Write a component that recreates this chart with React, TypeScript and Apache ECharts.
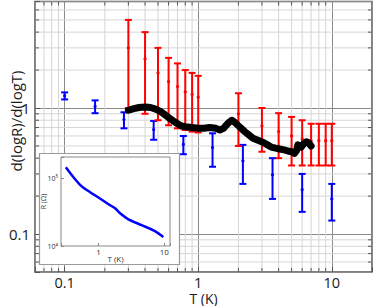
import React, { useEffect, useRef } from 'react';
import * as echarts from 'echarts';

// ---- Main axes ----
const xTickLabels = ['0.1', '1', '10'];
const yTickLabels = ['0.1', '1'];
const xMinorTicks = [0.07, 0.08, 0.09, 0.2, 0.3, 0.4, 0.5, 0.6, 0.7, 0.8, 0.9, 2, 3, 4, 5, 6, 7, 8, 9];
const yMinorTicks = [0.06, 0.07, 0.08, 0.09, 0.2, 0.3, 0.4, 0.5, 0.6, 0.7, 0.8, 0.9, 2, 3, 4, 5, 6];

// ---- Red error bars ----
const redT = [0.3, 0.4, 0.5, 0.6, 0.7, 0.8, 0.9, 1.0, 2, 3, 4, 5, 6, 7, 8, 9, 10];
const redCenter = [3.0, 2.45, 1.9, 1.62, 1.48, 1.34, 1.28, 1.22, 0.9, 0.72, 0.65, 0.6, 0.57, 0.55, 0.55, 0.55, 0.55];
const redLow = [1.0, 0.9, 0.8, 0.73, 0.69, 0.67, 0.65, 0.64, 0.5, 0.45, 0.4, 0.35, 0.35, 0.35, 0.35, 0.35, 0.35];
const redHigh = [5.0, 4.0, 3.0, 2.5, 2.26, 2.0, 1.9, 1.8, 1.31, 1.0, 0.91, 0.85, 0.8, 0.75, 0.75, 0.75, 0.75];

// ---- Blue error bars ----
const blueT = [0.1, 0.169, 0.278, 0.464, 0.774, 1.28, 2.16, 3.6, 6.0, 10];
const blueCenter = [1.25, 1.03, 0.81, 0.675, 0.515, 0.486, 0.38, 0.295, 0.225, 0.19];
const blueLow = [1.17, 0.91, 0.69, 0.56, 0.43, 0.342, 0.25, 0.19, 0.15, 0.128];
const blueHigh = [1.33, 1.15, 0.925, 0.79, 0.6, 0.63, 0.51, 0.4, 0.3, 0.25];

// ---- Black curve ----
const curveT = [0.3, 0.33, 0.36, 0.4, 0.44, 0.48, 0.52, 0.56, 0.6, 0.65, 0.7, 0.75, 0.8, 0.9, 1.0, 1.1, 1.22, 1.35, 1.45, 1.55, 1.62, 1.7, 1.79, 1.88, 1.98, 2.1, 2.23, 2.4, 2.57, 2.8, 3.05, 3.3, 3.52, 3.8, 4.06, 4.4, 4.69, 5.0, 5.27, 5.45, 5.57, 5.75, 5.9, 6.15, 6.44, 6.7, 7.0];
const curveY = [0.96, 0.99, 1.01, 1.02, 1.01, 0.98, 0.94, 0.89, 0.84, 0.79, 0.75, 0.72, 0.71, 0.7, 0.69, 0.69, 0.7, 0.69, 0.67, 0.69, 0.73, 0.77, 0.8, 0.77, 0.73, 0.69, 0.65, 0.61, 0.575, 0.555, 0.535, 0.51, 0.49, 0.48, 0.473, 0.465, 0.456, 0.45, 0.437, 0.46, 0.51, 0.5, 0.49, 0.52, 0.54, 0.53, 0.5];

// ---- Inset R(T) ----
const insetXTickLabels = ['1', '10'];
const insetYTickLabels = ['10⁴', '10⁵'];
const insetYTickValues = [1e4, 1e5];
const insetT = [0.32, 0.418, 0.558, 0.748, 1.0, 1.42, 1.79, 2.13, 2.85, 4.54, 7.22, 9.66];
const insetR = [1.48e5, 1.05e5, 7.67e4, 6.3e4, 5.25e4, 4.17e4, 3.63e4, 3.06e4, 2.49e4, 2.04e4, 1.66e4, 1.36e4];

const FONT = '"Open Sans", "DejaVu Sans", sans-serif';

const near = (a: number, b: number) => Math.abs(Math.log10(a) - Math.log10(b)) < 1e-6;

function errorBarSeries(name: string, color: string, t: number[], c: number[], lo: number[], hi: number[], z: number) {
  return {
    name,
    type: 'custom',
    xAxisIndex: 0,
    yAxisIndex: 0,
    z,
    silent: true,
    encode: { x: 0, y: [1, 2, 3] },
    data: t.map((v, i) => [v, c[i], lo[i], hi[i]]),
    renderItem: (params: any, api: any) => {
      const x = api.value(0);
      const pl = api.coord([x, api.value(2)]);
      const ph = api.coord([x, api.value(3)]);
      const pc = api.coord([x, api.value(1)]);
      const hw = 3.5;
      const style = { stroke: color, lineWidth: 2 };
      return {
        type: 'group',
        children: [
          { type: 'line', shape: { x1: pl[0], y1: pl[1], x2: ph[0], y2: ph[1] }, style },
          { type: 'line', shape: { x1: pl[0] - hw, y1: pl[1], x2: pl[0] + hw, y2: pl[1] }, style },
          { type: 'line', shape: { x1: ph[0] - hw, y1: ph[1], x2: ph[0] + hw, y2: ph[1] }, style },
          { type: 'circle', shape: { cx: pc[0], cy: pc[1], r: 1.6 }, style: { fill: color } },
        ],
      };
    },
  };
}

export default function App() {
  const ref = useRef<HTMLDivElement>(null);
  useEffect(() => {
    if (!ref.current) return;
    const chart = echarts.init(ref.current, null, { renderer: 'svg' });
    const option: any = {
      animation: false,
      textStyle: { fontFamily: FONT },
      grid: [
        {
          left: 35, right: 2, top: 1.5, bottom: 34,
          show: true, borderColor: '#555', borderWidth: 1.5, backgroundColor: '#fff',
          outerBoundsMode: 'none', containLabel: false,
        },
        {
          left: 61, top: 157, width: 109, height: 89,
          show: true, borderColor: '#888', borderWidth: 1, backgroundColor: '#fff',
          z: 11, outerBoundsMode: 'none', containLabel: false,
        },
      ],
      xAxis: [
        {
          type: 'log', gridIndex: 0, min: 0.06, max: 20,
          axisLine: { show: false },
          axisTick: { show: true, inside: true, length: 5, lineStyle: { color: '#555' } },
          splitLine: { show: true, lineStyle: { color: '#8a8a8a', width: 1 } },
          axisLabel: {
            fontSize: 14.5, lineHeight: 12, color: '#1a1a1a', margin: 4.5, fontFamily: FONT,
            formatter: (v: number) => xTickLabels.find((l) => near(v, parseFloat(l))) || '',
          },
          name: 'T (K)', nameLocation: 'middle', nameGap: 20, nameMoveOverlap: false,
          nameTextStyle: { fontSize: 14, lineHeight: 12, color: '#1a1a1a', fontFamily: FONT, verticalAlign: 'top' },
        },
        {
          type: 'log', gridIndex: 1, min: 0.27, max: 12.2, z: 12,
          axisLine: { show: false },
          axisTick: { show: true, inside: true, length: 3, lineStyle: { color: '#888' } },
          splitLine: { show: false },
          axisLabel: {
            fontSize: 8, color: '#333', margin: 1, fontFamily: FONT,
            formatter: (v: number) => insetXTickLabels.find((l) => near(v, parseFloat(l))) || '',
          },
          name: 'T (K)', nameLocation: 'middle', nameGap: 8, nameMoveOverlap: false,
          nameTextStyle: { fontSize: 8, color: '#333', fontFamily: FONT, verticalAlign: 'top' },
        },
      ],
      yAxis: [
        {
          type: 'log', gridIndex: 0, min: 0.05, max: 7,
          axisLine: { show: false },
          axisTick: { show: true, inside: true, length: 5, lineStyle: { color: '#555' } },
          splitLine: { show: true, lineStyle: { color: '#8a8a8a', width: 1 } },
          axisLabel: {
            fontSize: 15, color: '#1a1a1a', margin: 5, fontFamily: FONT,
            formatter: (v: number) => yTickLabels.find((l) => near(v, parseFloat(l))) || '',
          },
        },
        {
          type: 'log', gridIndex: 1, min: 1e4, max: 2.1e5, z: 12,
          axisLine: { show: false },
          axisTick: { show: true, inside: true, length: 3, lineStyle: { color: '#888' } },
          splitLine: { show: false },
          axisLabel: {
            fontSize: 7, color: '#333', margin: 3, fontFamily: FONT,
            formatter: (v: number) => {
              const i = insetYTickValues.findIndex((t) => near(v, t));
              return i >= 0 ? insetYTickLabels[i] : '';
            },
          },
          name: 'R (Ω)', nameLocation: 'middle', nameGap: 14, nameMoveOverlap: false,
          nameTextStyle: { fontSize: 7, color: '#333', fontFamily: FONT },
        },
      ],
      graphic: [
        {
          type: 'text', x: 16, y: 121, rotation: Math.PI / 2, z: 20,
          style: {
            text: 'd(logR)/d(logT)', fill: '#1a1a1a', font: `15px ${FONT}`,
            textAlign: 'center', textVerticalAlign: 'middle',
          },
        },
        {
          type: 'rect', z: 10,
          shape: { x: 39.5, y: 153.5, width: 140, height: 111 },
          style: { fill: '#fff', stroke: '#9a9a9a', lineWidth: 1.2 },
        },
      ],
      series: [
        {
          type: 'custom', xAxisIndex: 0, yAxisIndex: 0, z: 1, silent: true,
          encode: { x: 0, y: 1 },
          data: xMinorTicks.map((v) => [v, 1]),
          renderItem: (params: any, api: any) => {
            const cs = params.coordSys;
            const x = api.coord([api.value(0), 1])[0];
            const b = cs.y + cs.height;
            return {
              type: 'group',
              children: [
                { type: 'line', shape: { x1: x, y1: cs.y, x2: x, y2: b }, style: { stroke: '#d6d6d6', lineWidth: 1 } },
                { type: 'line', shape: { x1: x, y1: b, x2: x, y2: b - 4 }, style: { stroke: '#555', lineWidth: 1 } },
                { type: 'line', shape: { x1: x, y1: cs.y, x2: x, y2: cs.y + 4 }, style: { stroke: '#555', lineWidth: 1 } },
              ],
            };
          },
        },
        {
          type: 'custom', xAxisIndex: 0, yAxisIndex: 0, z: 1, silent: true,
          encode: { x: 0, y: 1 },
          data: yMinorTicks.map((v) => [1, v]),
          renderItem: (params: any, api: any) => {
            const cs = params.coordSys;
            const y = api.coord([1, api.value(1)])[1];
            const r = cs.x + cs.width;
            return {
              type: 'group',
              children: [
                { type: 'line', shape: { x1: cs.x, y1: y, x2: r, y2: y }, style: { stroke: '#d6d6d6', lineWidth: 1 } },
                { type: 'line', shape: { x1: cs.x, y1: y, x2: cs.x + 4, y2: y }, style: { stroke: '#555', lineWidth: 1 } },
                { type: 'line', shape: { x1: r, y1: y, x2: r - 4, y2: y }, style: { stroke: '#555', lineWidth: 1 } },
              ],
            };
          },
        },
        errorBarSeries('blue', '#0000ff', blueT, blueCenter, blueLow, blueHigh, 3),
        errorBarSeries('red', '#ff0000', redT, redCenter, redLow, redHigh, 4),
        {
          type: 'line', xAxisIndex: 0, yAxisIndex: 0, z: 5, silent: true,
          showSymbol: false, symbol: 'none',
          data: curveT.map((t, i) => [t, curveY[i]]),
          lineStyle: { color: '#000', width: 7, cap: 'round', join: 'round' },
        },
        {
          type: 'line', xAxisIndex: 1, yAxisIndex: 1, z: 13, silent: true,
          showSymbol: false, symbol: 'none', smooth: 0.3,
          data: insetT.map((t, i) => [t, insetR[i]]),
          lineStyle: { color: '#0000ff', width: 2.5 },
        },
      ],
    };
    chart.setOption(option);
    return () => chart.dispose();
  }, []);
  return (
    <div
      ref={ref}
      style={{ position: 'absolute', left: 0, top: 0, width: 374, height: 306, background: '#fff' }}
    />
  );
}
